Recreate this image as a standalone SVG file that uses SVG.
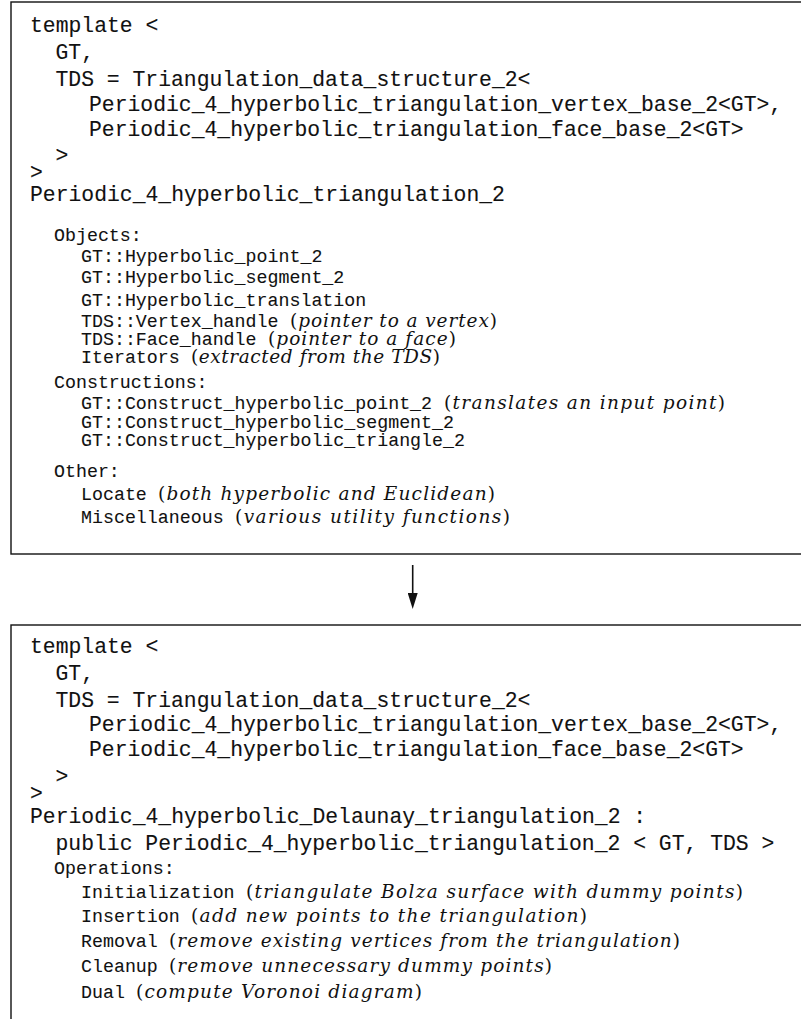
<svg xmlns="http://www.w3.org/2000/svg" width="801" height="1019" viewBox="0 0 801 1019">
<style>
.box{fill:#fff;stroke:#111;stroke-width:1.4}
.big{font-family:"Liberation Mono","DejaVu Sans Mono",monospace;font-size:21.4px;fill:#111;stroke:#111;stroke-width:0.1;white-space:pre}
.sm{font-family:"Liberation Mono","DejaVu Sans Mono",monospace;font-size:18.3px;fill:#111;stroke:#111;stroke-width:0.08;white-space:pre}
.it{font-family:"DejaVu Serif","Liberation Serif",serif;font-style:italic;font-size:18.5px;fill:#111;white-space:pre}
.up{font-style:normal}
.edge{stroke:#111;stroke-width:1.6;fill:none}
</style>
<defs>
<marker id="ah" markerWidth="16" markerHeight="10" refX="7" refY="5" orient="auto" markerUnits="userSpaceOnUse" viewBox="0 0 16 10">
<path d="M0,0 L16,5 L0,10 Z" fill="#111"/>
</marker>
</defs>
<rect width="801" height="1019" fill="#fff"/>
<g id="node-triangulation">
<rect class="box" x="11" y="2" width="820" height="552"/>
<text class="big" x="30" y="32">template &lt;</text>
<text class="big" x="55.5" y="59">GT,</text>
<text class="big" x="55.5" y="86">TDS = Triangulation_data_structure_2&lt;</text>
<text class="big" x="89" y="111">Periodic_4_hyperbolic_triangulation_vertex_base_2&lt;GT&gt;,</text>
<text class="big" x="89" y="136">Periodic_4_hyperbolic_triangulation_face_base_2&lt;GT&gt;</text>
<text class="big" x="55.5" y="162">&gt;</text>
<text class="big" x="30" y="179">&gt;</text>
<text class="big" x="30" y="201">Periodic_4_hyperbolic_triangulation_2</text>
<text class="sm" x="54" y="241">Objects:</text>
<text class="sm" x="81" y="262">GT::Hyperbolic_point_2</text>
<text class="sm" x="81" y="283">GT::Hyperbolic_segment_2</text>
<text class="sm" x="81" y="306">GT::Hyperbolic_translation</text>
<text class="sm" x="81" y="327">TDS::Vertex_handle</text>
<text class="it" x="290" y="327" textLength="207"><tspan class="up">(</tspan>pointer to a vertex<tspan class="up">)</tspan></text>
<text class="sm" x="81" y="345">TDS::Face_handle</text>
<text class="it" x="268" y="345" textLength="188"><tspan class="up">(</tspan>pointer to a face<tspan class="up">)</tspan></text>
<text class="sm" x="81" y="363">Iterators</text>
<text class="it" x="191" y="363" textLength="249"><tspan class="up">(</tspan>extracted from the TDS<tspan class="up">)</tspan></text>
<text class="sm" x="54" y="388">Constructions:</text>
<text class="sm" x="81" y="409">GT::Construct_hyperbolic_point_2</text>
<text class="it" x="444" y="409" textLength="281"><tspan class="up">(</tspan>translates an input point<tspan class="up">)</tspan></text>
<text class="sm" x="81" y="428">GT::Construct_hyperbolic_segment_2</text>
<text class="sm" x="81" y="446">GT::Construct_hyperbolic_triangle_2</text>
<text class="sm" x="54" y="477">Other:</text>
<text class="sm" x="81" y="500">Locate</text>
<text class="it" x="158" y="500" textLength="337"><tspan class="up">(</tspan>both hyperbolic and Euclidean<tspan class="up">)</tspan></text>
<text class="sm" x="81" y="523">Miscellaneous</text>
<text class="it" x="235" y="523" textLength="275"><tspan class="up">(</tspan>various utility functions<tspan class="up">)</tspan></text>
</g>
<g id="node-delaunay">
<rect class="box" x="11" y="625" width="820" height="420"/>
<text class="big" x="30" y="653">template &lt;</text>
<text class="big" x="55.5" y="680">GT,</text>
<text class="big" x="55.5" y="707">TDS = Triangulation_data_structure_2&lt;</text>
<text class="big" x="89" y="731">Periodic_4_hyperbolic_triangulation_vertex_base_2&lt;GT&gt;,</text>
<text class="big" x="89" y="756">Periodic_4_hyperbolic_triangulation_face_base_2&lt;GT&gt;</text>
<text class="big" x="55.5" y="783">&gt;</text>
<text class="big" x="30" y="800">&gt;</text>
<text class="big" x="30" y="823">Periodic_4_hyperbolic_Delaunay_triangulation_2 :</text>
<text class="big" x="55.5" y="850">public Periodic_4_hyperbolic_triangulation_2 &lt; GT, TDS &gt;</text>
<text class="sm" x="54" y="874">Operations:</text>
<text class="sm" x="81" y="898">Initialization</text>
<text class="it" x="246" y="898" textLength="497"><tspan class="up">(</tspan>triangulate Bolza surface with dummy points<tspan class="up">)</tspan></text>
<text class="sm" x="81" y="922">Insertion</text>
<text class="it" x="191" y="922" textLength="396"><tspan class="up">(</tspan>add new points to the triangulation<tspan class="up">)</tspan></text>
<text class="sm" x="81" y="947">Removal</text>
<text class="it" x="169" y="947" textLength="511"><tspan class="up">(</tspan>remove existing vertices from the triangulation<tspan class="up">)</tspan></text>
<text class="sm" x="81" y="972">Cleanup</text>
<text class="it" x="169" y="972" textLength="383"><tspan class="up">(</tspan>remove unnecessary dummy points<tspan class="up">)</tspan></text>
<text class="sm" x="81" y="998">Dual</text>
<text class="it" x="136" y="998" textLength="286"><tspan class="up">(</tspan>compute Voronoi diagram<tspan class="up">)</tspan></text>
</g>
<g id="connectors">
<line class="edge" x1="412.7" y1="565" x2="412.7" y2="600" marker-end="url(#ah)"/>
</g>
</svg>
